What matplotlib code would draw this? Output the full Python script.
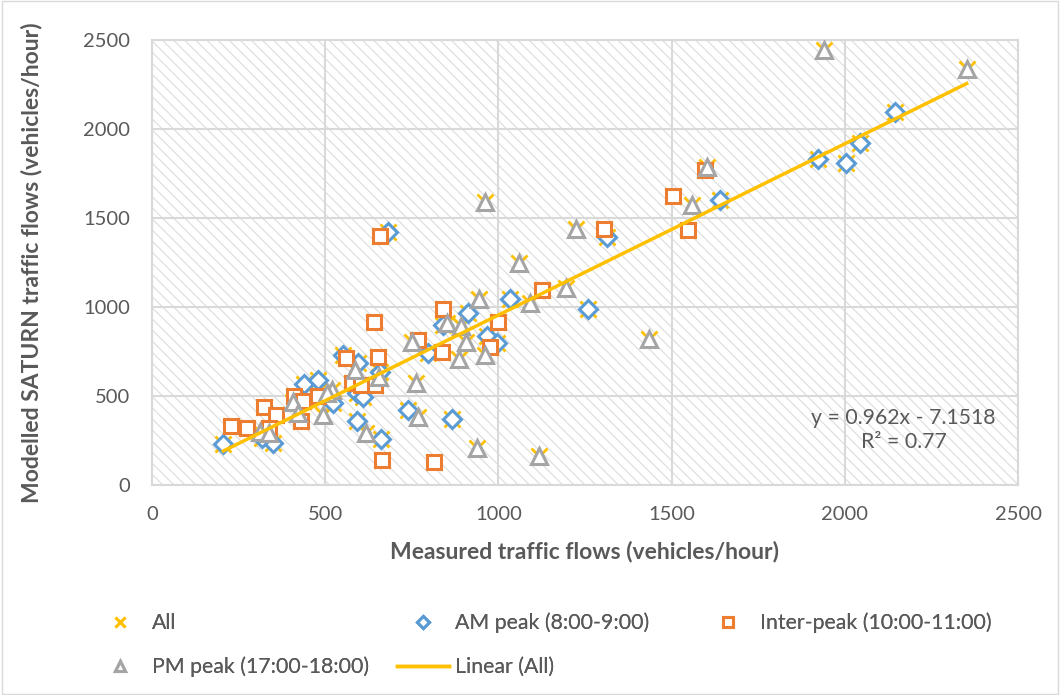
import matplotlib
matplotlib.use("Agg")
import matplotlib.pyplot as plt
import numpy as np
from matplotlib.patches import Rectangle

# measured vs modelled flows (vehicles/hour)
am_measured = [206, 350, 317, 440, 478, 523, 552, 596, 591, 610, 658, 593, 660, 740,
               865, 682, 798, 841, 913, 966, 995, 1033, 1260, 1313, 1640, 1923, 2003,
               2044, 2145]
am_modelled = [229, 234, 262, 566, 590, 462, 730, 684, 515, 496, 637, 361, 257, 421,
               369, 1423, 740, 899, 968, 837, 796, 1043, 987, 1395, 1601, 1830, 1807,
               1920, 2097]

inter_measured = [227, 273, 323, 358, 339, 411, 430, 437, 480, 559, 577, 602, 645, 653,
                  642, 657, 665, 815, 769, 841, 838, 1000, 976, 1127, 1306, 1505, 1548,
                  1596]
inter_modelled = [331, 323, 437, 393, 319, 501, 360, 473, 501, 712, 571, 559, 562, 719,
                  914, 1399, 140, 128, 815, 987, 746, 914, 777, 1096, 1438, 1624, 1433,
                  1770]

pm_measured = [312, 339, 408, 422, 493, 519, 504, 586, 618, 656, 762, 750, 768, 853,
               893, 906, 886, 960, 943, 960, 937, 1059, 1092, 1196, 1225, 1117, 1435,
               1558, 1601, 1941, 2352]
pm_modelled = [299, 294, 468, 403, 393, 534, 515, 646, 290, 608, 574, 803, 384, 912,
               892, 802, 709, 730, 1043, 1592, 208, 1247, 1021, 1105, 1437, 163, 822,
               1573, 1788, 2444, 2335]

# trendline reported on the chart
slope = 0.962
intercept = -7.1518
r_squared = 0.77

x_ticks = [0, 500, 1000, 1500, 2000, 2500]
y_ticks = [0, 500, 1000, 1500, 2000, 2500]

all_measured = np.concatenate([am_measured, inter_measured, pm_measured])
all_modelled = np.concatenate([am_modelled, inter_modelled, pm_modelled])

FONT = ['Lato', 'DejaVu Sans']
TEXT_COLOR = '#595959'
GRID_COLOR = '#d9d9d9'
plt.rcParams['font.family'] = FONT
plt.rcParams['hatch.linewidth'] = 0.8
plt.rcParams['hatch.color'] = '#dcdcdc'

W, H = 1060, 695
fig = plt.figure(figsize=(W / 100, H / 100), dpi=100)
ax = fig.add_axes([152 / W, 1 - 485 / H, 866 / W, 445 / H])

# hatched plot-area background
ax.add_patch(Rectangle((0, 0), 1, 1, transform=ax.transAxes, facecolor='white',
                       edgecolor='#dcdcdc', hatch='\\\\\\', linewidth=0, zorder=0))

all_line, = ax.plot(all_measured, all_modelled, ls='none', marker='x', color='#FFC000',
                    markersize=11, markeredgewidth=2, zorder=2, label='All')
am_line, = ax.plot(am_measured, am_modelled, ls='none', marker='D', markersize=9,
                   markerfacecolor='white', markeredgecolor='#5B9BD5',
                   markeredgewidth=2.2, zorder=3, label='AM peak (8:00-9:00)')
inter_line, = ax.plot(inter_measured, inter_modelled, ls='none', marker='s',
                      markersize=10.5, markerfacecolor='white', markeredgecolor='#ED7D31',
                      markeredgewidth=2.2, zorder=4, label='Inter-peak (10:00-11:00)')
pm_line, = ax.plot(pm_measured, pm_modelled, ls='none', marker='^', markersize=11.5,
                   markerfacecolor='white', markeredgecolor='#A5A5A5',
                   markeredgewidth=2.2, zorder=5, label='PM peak (17:00-18:00)')

xs = np.array([all_measured.min(), all_measured.max()])
trend_line, = ax.plot(xs, slope * xs + intercept, color='#FFC000', lw=2.5, zorder=6,
                      label='Linear (All)')

ax.text(0.868, 0.124, f'y = {slope}x - {abs(intercept)}\nR² = {r_squared}',
        transform=ax.transAxes, ha='center', va='center', fontsize=15.3,
        color=TEXT_COLOR, linespacing=1.25, zorder=7)

ax.set_xlim(0, 2500)
ax.set_ylim(0, 2500)
ax.set_xticks(x_ticks)
ax.set_yticks(y_ticks)
ax.grid(True, color=GRID_COLOR, lw=1.5, zorder=1)
ax.set_axisbelow(True)
for s in ax.spines.values():
    s.set_color(GRID_COLOR)
    s.set_linewidth(1.5)
ax.tick_params(length=0, labelsize=14.5, labelcolor=TEXT_COLOR)
ax.tick_params(axis='x', pad=15)
ax.tick_params(axis='y', pad=16)

ax.set_xlabel('Measured traffic flows (vehicles/hour)', fontsize=16.5, fontweight='bold',
              color=TEXT_COLOR, va='center')
ax.set_ylabel('Modelled SATURN traffic flows (vehicles/hour)', fontsize=16.5,
              fontweight='bold', color=TEXT_COLOR, va='center')
ax.xaxis.set_label_coords(0.5, (485 - 551) / 445)
ax.yaxis.set_label_coords((32 - 152) / 866, 0.5)

# Excel-like flowing legend: one small legend per entry
LEG_SIZE = 15.3
em = LEG_SIZE * 100 / 72
entries = [
    (all_line, 'All', 120, 623),
    (am_line, 'AM peak (8:00-9:00)', 423, 623),
    (inter_line, 'Inter-peak (10:00-11:00)', 728, 623),
    (pm_line, 'PM peak (17:00-18:00)', 120, 667),
]
for handle, label, px, py in entries:
    leg = fig.legend([handle], [label], loc='center left',
                     bbox_to_anchor=((px - em / 2) / W, 1 - py / H), frameon=False,
                     fontsize=LEG_SIZE, labelcolor=TEXT_COLOR, borderaxespad=0,
                     borderpad=0, handlelength=1.0, handletextpad=(152 - 120 - em / 2) / em,
                     markerscale=0.65)
    fig.add_artist(leg)
leg = fig.legend([trend_line], ['Linear (All)'], loc='center left',
                 bbox_to_anchor=(397 / W, 1 - 667 / H), frameon=False,
                 fontsize=LEG_SIZE, labelcolor=TEXT_COLOR, borderaxespad=0,
                 borderpad=0, handlelength=52 / em, handletextpad=6 / em)
fig.add_artist(leg)

fig.add_artist(Rectangle((0.002, 0.002), 0.996, 0.996, transform=fig.transFigure,
                         fill=False, edgecolor=GRID_COLOR, lw=1))

fig.savefig('out.png', dpi=100)
